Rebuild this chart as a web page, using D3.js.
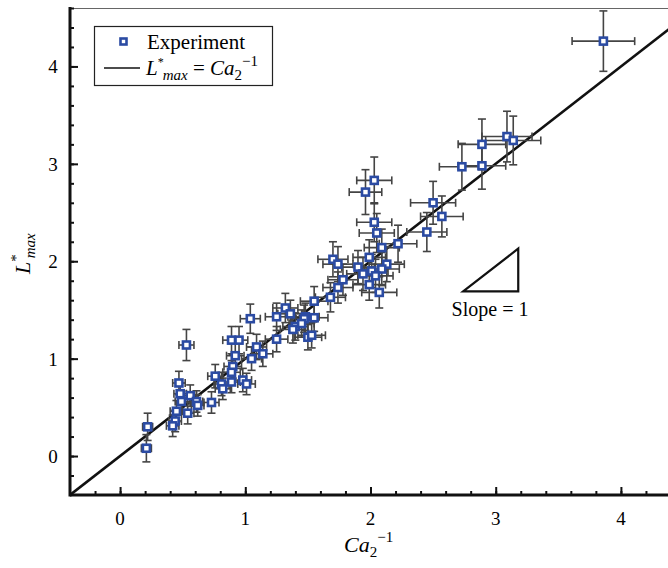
<!DOCTYPE html>
<html>
<head>
<meta charset="utf-8">
<script src="https://cdn.jsdelivr.net/npm/d3@7"></script>
<style>
  body { margin: 0; background: #fff; }
  text { font-family: "Liberation Serif", "DejaVu Serif", serif; }
</style>
</head>
<body>
<script>
var w = 668;
var h = 568;

// Ca2^-1 (x) and L*max (y) of each experiment, with error half-widths
var caInv = [3.86, 3.09, 3.14, 2.89, 2.89, 2.73, 2.50, 2.57, 2.45, 2.22,
             2.03, 1.96, 2.03, 2.05, 2.09, 1.70, 1.74, 1.99, 1.90, 2.13,
             2.09, 2.01, 1.94, 2.04, 1.78, 1.99, 1.74, 2.07, 1.68, 1.55,
             1.48, 1.55, 1.40, 0.53, 1.04, 0.89, 0.95, 1.32, 1.25, 1.36,
             1.47, 1.38, 1.50, 1.25, 1.09, 1.14, 1.05, 0.92, 0.90, 0.89,
             0.76, 0.81, 0.98, 1.01, 0.89, 0.47, 0.22, 0.21, 0.56, 0.49,
             0.61, 0.54, 0.45, 0.44, 0.42, 0.73, 0.82, 0.62, 0.48, 1.53,
             1.45];
var lMax  = [4.26, 3.28, 3.24, 3.20, 2.98, 2.97, 2.60, 2.46, 2.30, 2.18,
             2.83, 2.71, 2.40, 2.29, 2.14, 2.02, 1.97, 2.04, 1.94, 1.97,
             1.92, 1.90, 1.87, 1.85, 1.81, 1.76, 1.73, 1.68, 1.63, 1.59,
             1.43, 1.42, 1.33, 1.14, 1.41, 1.19, 1.19, 1.52, 1.43, 1.46,
             1.41, 1.30, 1.22, 1.20, 1.12, 1.05, 1.00, 1.03, 0.92, 0.86,
             0.82, 0.74, 0.78, 0.74, 0.76, 0.75, 0.30, 0.08, 0.62, 0.56,
             0.56, 0.44, 0.46, 0.36, 0.31, 0.55, 0.69, 0.52, 0.64, 1.24,
             1.36];
var xErr  = [0.25, 0.20, 0.22, 0.19, 0.19, 0.18, 0.18, 0.17, 0.16, 0.15,
             0.14, 0.13, 0.14, 0.14, 0.14, 0.12, 0.12, 0.13, 0.13, 0.14,
             0.14, 0.13, 0.13, 0.14, 0.12, 0.13, 0.12, 0.14, 0.12, 0.11,
             0.11, 0.11, 0.10, 0.06, 0.08, 0.07, 0.07, 0.10, 0.09, 0.10,
             0.10, 0.10, 0.11, 0.09, 0.08, 0.08, 0.08, 0.07, 0.07, 0.07,
             0.06, 0.06, 0.07, 0.07, 0.07, 0.05, 0.04, 0.04, 0.05, 0.05,
             0.05, 0.05, 0.05, 0.05, 0.05, 0.06, 0.06, 0.05, 0.05, 0.11,
             0.10];
var yErr  = [0.31, 0.26, 0.25, 0.26, 0.24, 0.24, 0.22, 0.21, 0.20, 0.19,
             0.24, 0.23, 0.20, 0.20, 0.19, 0.18, 0.18, 0.18, 0.17, 0.18,
             0.17, 0.17, 0.17, 0.17, 0.16, 0.16, 0.16, 0.16, 0.15, 0.15,
             0.14, 0.14, 0.14, 0.16, 0.15, 0.14, 0.14, 0.15, 0.14, 0.14,
             0.14, 0.14, 0.13, 0.13, 0.13, 0.13, 0.12, 0.13, 0.12, 0.12,
             0.12, 0.12, 0.12, 0.11, 0.11, 0.12, 0.14, 0.14, 0.11, 0.11,
             0.11, 0.11, 0.11, 0.11, 0.11, 0.11, 0.11, 0.11, 0.11, 0.13,
             0.14];

var xTicks = [0, 1, 2, 3, 4];
var yTicks = [0, 1, 2, 3, 4];
var slopeTri = [[2.74, 1.69], [3.18, 2.13], [3.18, 1.69]];

var pts = caInv.map(function(d, i) {
  return {x: d, y: lMax[i], xe: xErr[i], ye: yErr[i]};
});

var x = d3.scaleLinear().domain([-0.4, 4.4]).range([70, 671]);
var y = d3.scaleLinear().domain([-0.4, 4.6]).range([495, 8]);

var svg = d3.select("body")
            .append("svg")
              .attr("width", w)
              .attr("height", h);

svg.append("clipPath").attr("id", "clip")
  .append("rect").attr("x", 70).attr("y", 8).attr("width", 600).attr("height", 487);

// top frame
svg.append("line")
  .attr("x1", 70).attr("x2", w).attr("y1", 8.5).attr("y2", 8.5)
  .attr("stroke", "#666").attr("stroke-width", 1);

// y = x line
svg.append("line")
  .attr("clip-path", "url(#clip)")
  .attr("x1", x(-0.4)).attr("y1", y(-0.4))
  .attr("x2", x(4.4)).attr("y2", y(4.4))
  .attr("stroke", "#111").attr("stroke-width", 2.6);

// axes, ticks inward
svg.append("g").attr("transform", "translate(0,495)")
  .call(d3.axisTop(x).tickValues(d3.range(-0.2, 4.41, 0.2)).tickSize(4).tickFormat(""));
svg.append("g").attr("transform", "translate(0,495)")
  .call(d3.axisTop(x).tickValues(xTicks).tickSize(8).tickFormat(""));
svg.append("g").attr("transform", "translate(70,0)")
  .call(d3.axisRight(y).tickValues(d3.range(-0.2, 4.61, 0.2)).tickSize(4).tickFormat(""));
svg.append("g").attr("transform", "translate(70,0)")
  .call(d3.axisRight(y).tickValues(yTicks).tickSize(8).tickFormat(""));

svg.selectAll(".domain").remove();
svg.selectAll(".tick line").attr("stroke", "#111").attr("stroke-width", 2);

svg.append("line").attr("x1", 70).attr("x2", w).attr("y1", 495).attr("y2", 495)
  .attr("stroke", "#111").attr("stroke-width", 3);
svg.append("line").attr("x1", 70).attr("x2", 70).attr("y1", 7).attr("y2", 496.5)
  .attr("stroke", "#111").attr("stroke-width", 3);

svg.selectAll("text.xt")
  .data(xTicks).enter().append("text")
    .attr("class", "xt")
    .attr("x", function(d) { return x(d); })
    .attr("y", 525)
    .attr("text-anchor", "middle")
    .attr("font-size", "19px")
    .text(function(d) { return d; });

svg.selectAll("text.yt")
  .data(yTicks).enter().append("text")
    .attr("class", "yt")
    .attr("x", 53)
    .attr("y", function(d) { return y(d) + 7; })
    .attr("text-anchor", "middle")
    .attr("font-size", "19px")
    .text(function(d) { return d; });

// error bars
var eb = svg.append("g").attr("stroke", "#444").attr("stroke-width", 1.6);
var cap = 4;
pts.forEach(function(d) {
  var cx = x(d.x), cy = y(d.y);
  var x0 = x(d.x - d.xe), x1 = x(d.x + d.xe);
  var y0 = y(d.y - d.ye), y1 = y(d.y + d.ye);
  eb.append("line").attr("x1", x0).attr("x2", x1).attr("y1", cy).attr("y2", cy);
  eb.append("line").attr("x1", x0).attr("x2", x0).attr("y1", cy - cap).attr("y2", cy + cap);
  eb.append("line").attr("x1", x1).attr("x2", x1).attr("y1", cy - cap).attr("y2", cy + cap);
  eb.append("line").attr("x1", cx).attr("x2", cx).attr("y1", y0).attr("y2", y1);
  eb.append("line").attr("x1", cx - cap).attr("x2", cx + cap).attr("y1", y0).attr("y2", y0);
  eb.append("line").attr("x1", cx - cap).attr("x2", cx + cap).attr("y1", y1).attr("y2", y1);
});

// markers
svg.selectAll("rect.pt")
  .data(pts).enter().append("rect")
    .attr("class", "pt")
    .attr("x", function(d) { return x(d.x) - 3.5; })
    .attr("y", function(d) { return y(d.y) - 3.5; })
    .attr("width", 7).attr("height", 7)
    .attr("fill", "#fff")
    .attr("stroke", "#2b4ba3")
    .attr("stroke-width", 2.6);

// slope triangle
svg.append("path")
  .attr("d", d3.line().x(function(d) { return x(d[0]); }).y(function(d) { return y(d[1]); })(slopeTri) + "Z")
  .attr("fill", "none").attr("stroke", "#111").attr("stroke-width", 2.2)
  .attr("stroke-linejoin", "miter");
svg.append("text")
  .attr("x", 490).attr("y", 316)
  .attr("text-anchor", "middle")
  .attr("font-size", "20px")
  .text("Slope = 1");

// legend
svg.append("rect")
  .attr("x", 94.5).attr("y", 26.5).attr("width", 178).attr("height", 59)
  .attr("fill", "#fff").attr("stroke", "#222").attr("stroke-width", 1.2);
svg.append("rect")
  .attr("x", 120.5).attr("y", 38.5).attr("width", 6).attr("height", 6)
  .attr("fill", "#fff").attr("stroke", "#2b4ba3").attr("stroke-width", 2.6);
svg.append("text")
  .attr("x", 147).attr("y", 49)
  .attr("font-size", "21px")
  .text("Experiment");
svg.append("line")
  .attr("x1", 104).attr("x2", 140).attr("y1", 68).attr("y2", 68)
  .attr("stroke", "#111").attr("stroke-width", 1.5);
var lg = svg.append("text").attr("x", 146).attr("y", 75).attr("font-size", "21px");
lg.append("tspan").attr("font-style", "italic").text("L");
lg.append("tspan").attr("font-size", "12px").attr("dy", -9).text("*");
lg.append("tspan").attr("font-size", "15px").attr("font-style", "italic").attr("dx", -1).attr("dy", 14).text("max");
lg.append("tspan").attr("dy", -5).text(" = ");
lg.append("tspan").attr("font-style", "italic").text("Ca");
lg.append("tspan").attr("font-size", "15px").attr("dy", 5).text("2");
lg.append("tspan").attr("font-size", "15px").attr("dy", -14).text("\u22121");

// axis titles
var xl = svg.append("text").attr("x", 344).attr("y", 552).attr("font-size", "22px");
xl.append("tspan").attr("font-style", "italic").text("Ca");
xl.append("tspan").attr("font-size", "15px").attr("dy", 5).text("2");
xl.append("tspan").attr("font-size", "15px").attr("dy", -15).text("\u22121");

var yl = svg.append("text")
  .attr("transform", "translate(30,274) rotate(-90)")
  .attr("font-size", "22px");
yl.append("tspan").attr("font-style", "italic").text("L");
yl.append("tspan").attr("font-size", "15px").attr("dy", -9).text("*");
yl.append("tspan").attr("font-size", "15px").attr("font-style", "italic").attr("dx", -4).attr("dy", 14).text("max");
</script>
</body>
</html>
